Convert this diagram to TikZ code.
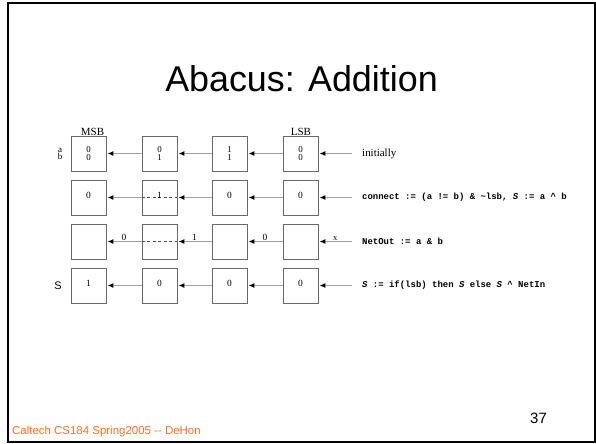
\documentclass[tikz,border=0pt]{standalone}
\usepackage{fontspec}
\setmainfont{Liberation Serif}
\setsansfont{Liberation Sans}
\setmonofont{Liberation Mono}
\usetikzlibrary{arrows.meta}
\definecolor{footer}{RGB}{255,110,30}
\definecolor{wire}{RGB}{160,160,160}
\definecolor{cell}{RGB}{105,105,105}
\begin{document}
\begin{tikzpicture}[x=1bp,y=-1bp,
  cellbox/.style={draw=cell, line width=0.8bp, minimum width=35bp, minimum height=35bp,
    inner sep=0pt, font=\fontsize{9.5}{9.5}\selectfont},
  digit/.style={cellbox, text height=3.5bp, text depth=1.5bp},
  pair/.style={cellbox, align=center, font=\fontsize{9}{7.2}\selectfont},
  link/.style={draw=wire, line width=1.2bp, -{Latex[length=6bp,width=5bp,color=black]}, shorten >=1bp},
  bridge/.style={draw=black!70, line width=1bp, dash pattern=on 3bp off 2.5bp},
  wirelabel/.style={above, inner sep=0.6bp, text=black, font=\fontsize{9.5}{9.5}\selectfont},
  note/.style={anchor=west, inner sep=0pt, font=\fontsize{11}{11}\selectfont},
  code/.style={anchor=west, inner sep=0pt, font=\fontsize{9}{9}\ttfamily\bfseries},
  tag/.style={inner sep=0pt, font=\fontsize{11}{11}\selectfont}]
\useasboundingbox (0,0) rectangle (596,444);
% slide frame
\draw[line width=2bp] (8,3) rectangle (595,442);

% title, footer, page number
\node[font=\fontsize{36}{36}\sffamily, anchor=base] (title) at (301.5,92) {Abacus: Addition};
\node[font=\fontsize{11.5}{11.5}\sffamily, text=footer, anchor=base west, inner sep=0pt] (foot) at (12,434) {Caltech CS184 Spring2005 -{}- DeHon};
\node[font=\fontsize{15}{15}\sffamily, anchor=base, inner sep=0pt] (page) at (538.5,423) {37};

% bit labels
\node[tag, anchor=base] (msb) at (92.5,135.5) {MSB};
\node[tag, anchor=base] (lsb) at (301,135.5) {LSB};
\node[inner sep=0pt, align=center, font=\fontsize{9}{7.2}\selectfont] (ab) at (60,154) {a\\b};
\node[inner sep=0pt, font=\fontsize{11}{11}\sffamily] (slabel) at (58,285.5) {S};

% row 1: initial operands
\node[pair] (a1) at (88.5,153.5) {0\\0};
\node[pair] (a2) at (159.5,153.5) {0\\1};
\node[pair] (a3) at (229.5,153.5) {1\\1};
\node[pair] (a4) at (300.5,153.5) {0\\0};
\coordinate (ain) at (352,153.5);
\draw[link] (a2.west) -- (a1.east);
\draw[link] (a3.west) -- (a2.east);
\draw[link] (a4.west) -- (a3.east);
\draw[link] (ain) -- (a4.east);
\node[note] (t1) at (362,153.5) {initially};

% row 2: connect
\node[digit] (d1) at (88.5,197.5) {0};
\node[digit] (d2) at (159.5,197.5) {};
\node[digit] (d3) at (229.5,197.5) {0};
\node[digit] (d4) at (300.5,197.5) {0};
\draw[bridge] (d2.west) -- (d2.east);
\node[digit, draw=none] (d2v) at (d2.center) {1};
\coordinate (din) at (352,197.5);
\draw[link] (d2.west) -- (d1.east);
\draw[link] (d3.west) -- (d2.east);
\draw[link] (d4.west) -- (d3.east);
\draw[link] (din) -- (d4.east);
\node[code] (t2) at (362,197.5) {connect := (a != b) \& \textasciitilde lsb, \textit{S} := a \textasciicircum{} b};

% row 3: carry network
\node[cellbox] (n1) at (88.5,241.5) {};
\node[cellbox] (n2) at (159.5,241.5) {};
\node[cellbox] (n3) at (229.5,241.5) {};
\node[cellbox] (n4) at (300.5,241.5) {};
\draw[bridge] (n2.west) -- (n2.east);
\coordinate (nin) at (352,241.5);
\draw[link] (n2.west) -- node[wirelabel] {0} (n1.east);
\draw[link] (n3.west) -- node[wirelabel] {1} (n2.east);
\draw[link] (n4.west) -- node[wirelabel] {0} (n3.east);
\draw[link] (nin) -- node[wirelabel, font=\fontsize{8.5}{8.5}\selectfont] {x} (n4.east);
\node[code] (t3) at (362,241.5) {NetOut := a \& b};

% row 4: sum
\node[digit] (s1) at (88.5,285.5) {1};
\node[digit] (s2) at (159.5,285.5) {0};
\node[digit] (s3) at (229.5,285.5) {0};
\node[digit] (s4) at (300.5,285.5) {0};
\coordinate (sin) at (352,285.5);
\draw[link] (s2.west) -- (s1.east);
\draw[link] (s3.west) -- (s2.east);
\draw[link] (s4.west) -- (s3.east);
\draw[link] (sin) -- (s4.east);
\node[code] (t4) at (362,285.5) {\textit{S} := if(lsb) then \textit{S} else \textit{S} \textasciicircum{} NetIn};
\end{tikzpicture}
\end{document}
